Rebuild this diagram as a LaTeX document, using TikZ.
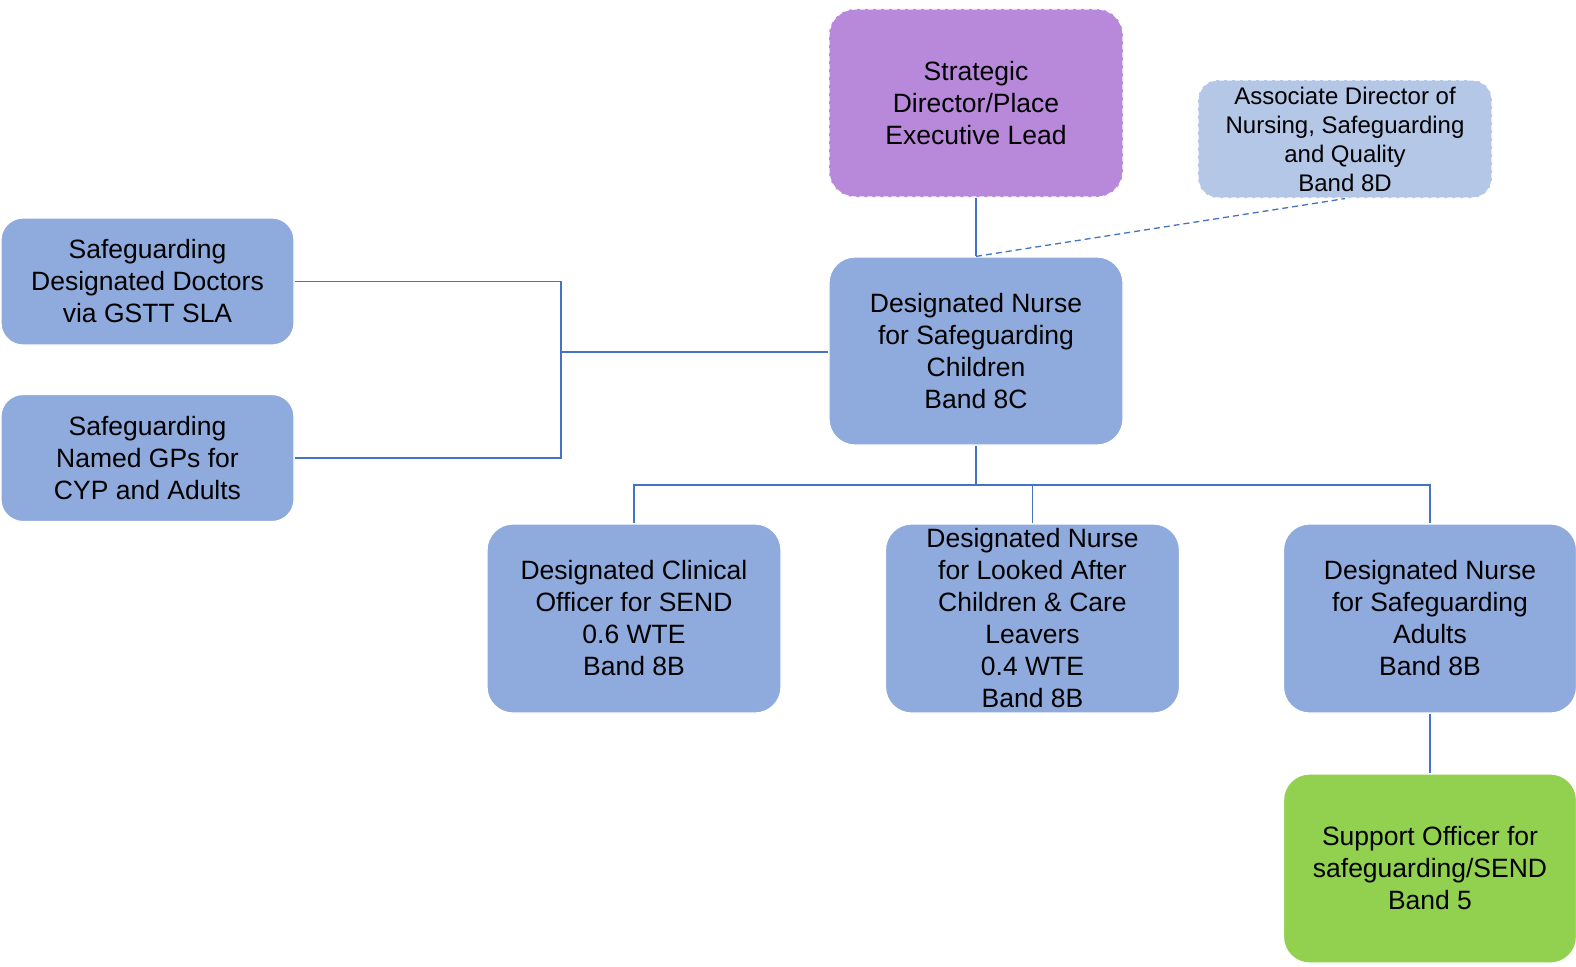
\documentclass[tikz,border=0pt]{standalone}
\usepackage{fontspec}
\setmainfont{Liberation Sans}
\definecolor{boxblue}{HTML}{8FAADC}
\definecolor{boxpurple}{HTML}{B888DB}
\definecolor{boxlight}{HTML}{B4C7E7}
\definecolor{boxgreen}{HTML}{92D050}
\definecolor{linkblue}{HTML}{4472C4}
\begin{document}
\begin{tikzpicture}[x=1pt,y=-1pt,
  orgbox/.style={rounded corners=26pt, draw=white, line width=1.2pt, fill=boxblue,
    align=center, inner sep=0pt, text=black,
    font=\fontsize{26.5}{32}\selectfont},
  dashbox/.style={orgbox, dash pattern=on 5pt off 3pt},
  link/.style={draw=linkblue, line width=1.3pt},
  dlink/.style={link, dash pattern=on 6pt off 4pt}]
\useasboundingbox (0,0) rectangle (1576,966);
% boxes
\node[dashbox, fill=boxpurple, minimum width=294pt, minimum height=188pt] (sd) at (976,103) {Strategic\\Director/Place\\Executive Lead};
\node[dashbox, fill=boxlight, rounded corners=20pt, minimum width=294pt, minimum height=118pt,
  font=\fontsize{24}{29}\selectfont] (ad) at (1345,139) {Associate Director of\\Nursing, Safeguarding\\and Quality\\Band 8D};
\node[orgbox, minimum width=294pt, minimum height=188pt] (dnc) at (976,351) {Designated Nurse\\for Safeguarding\\Children\\Band 8C};
\node[orgbox, rounded corners=22pt, minimum width=293pt, minimum height=127pt] (doc) at (147.5,281.5) {Safeguarding\\Designated Doctors\\via GSTT SLA};
\node[orgbox, rounded corners=22pt, minimum width=293pt, minimum height=127pt] (gp) at (147.5,458) {Safeguarding\\Named GPs for\\CYP and Adults};
\node[orgbox, minimum width=294pt, minimum height=189pt] (send) at (634,618.5) {Designated Clinical\\Officer for SEND\\0.6 WTE\\Band 8B};
\node[orgbox, minimum width=294pt, minimum height=189pt] (lac) at (1032.5,618.5) {Designated Nurse\\for Looked After\\Children \& Care\\Leavers\\0.4 WTE\\Band 8B};
\node[orgbox, minimum width=293pt, minimum height=189pt] (adl) at (1430,618.5) {Designated Nurse\\for Safeguarding\\Adults\\Band 8B};
\node[orgbox, fill=boxgreen, minimum width=293pt, minimum height=189pt] (sup) at (1430,868.5) {Support Officer for\\safeguarding/SEND\\Band 5};
% coordinates
\coordinate (bx) at (561,352);
\coordinate (bus) at (976,485);
% connectors
\draw[link] (sd.south) -- (dnc.north);
\draw[dlink] (dnc.north) -- (ad.south);
\draw[link] (doc.east) -- (doc.east -| bx) -- (gp.east -| bx) -- (gp.east);
\draw[link] (bx) -- (bx -| dnc.west);
\draw[link] (dnc.south) -- (bus);
\draw[link] (send.north) -- (send.north |- bus) -- (adl.north |- bus) -- (adl.north);
\draw[link] (lac.north) -- (lac.north |- bus);
\draw[link] (adl.south) -- (sup.north);
\end{tikzpicture}
\end{document}
